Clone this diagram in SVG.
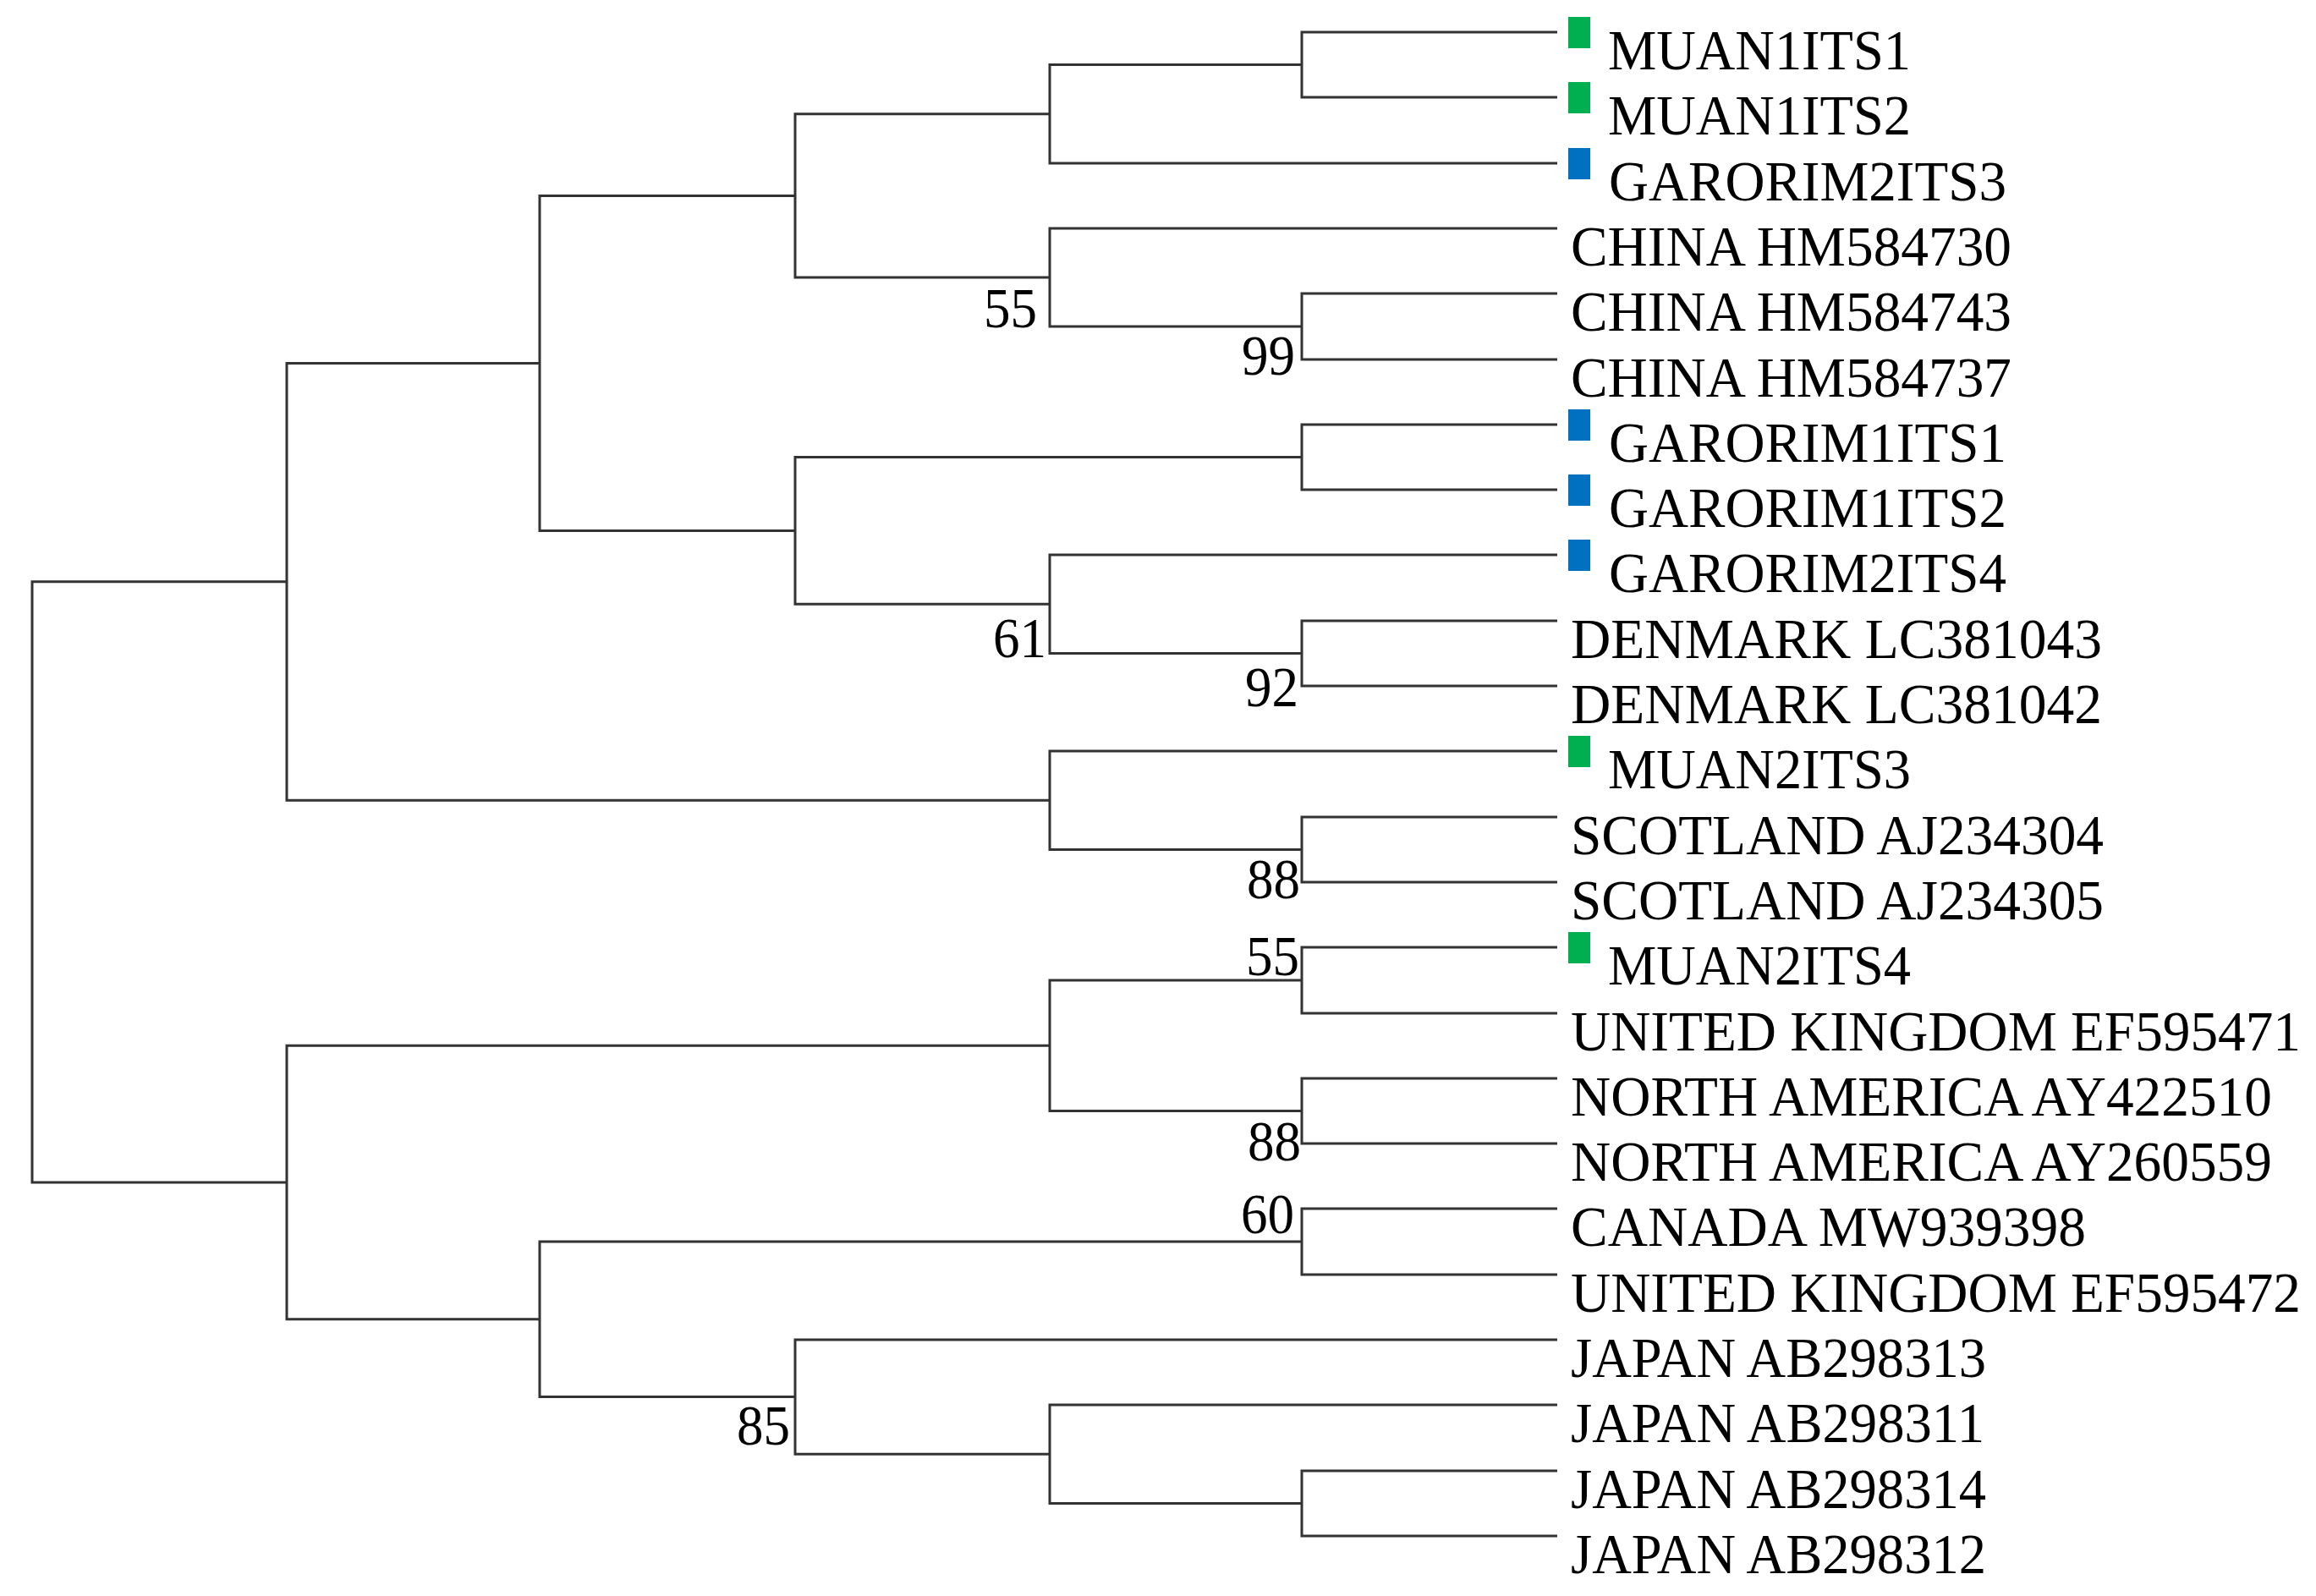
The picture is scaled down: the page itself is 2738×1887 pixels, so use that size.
<svg xmlns="http://www.w3.org/2000/svg" width="2738" height="1887" viewBox="0 0 2738 1887">
<style>
  .br { fill: none; stroke: #333333; stroke-width: 3; stroke-linejoin: miter; stroke-linecap: butt; }
  .lbl { font-family: "Liberation Serif", "Times New Roman", serif; font-size: 67px; fill: #000000; }
  .bs { font-family: "Liberation Serif", "Times New Roman", serif; font-size: 67px; fill: #000000; text-anchor: end; }
  .g { fill: #00B050; }
  .b { fill: #0070C0; }
</style>
<rect x="0" y="0" width="2738" height="1887" fill="#ffffff"/>
<g id="connectors">
  <path class="br" d="M1841,38 H1539 V115 H1841"/>
  <path class="br" d="M1539,76.5 H1241 V193 H1841"/>
  <path class="br" d="M1841,347 H1539 V425 H1841"/>
  <path class="br" d="M1841,270 H1241 V386 H1539"/>
  <path class="br" d="M1241,134.75 H940 V328 H1241"/>
  <path class="br" d="M1841,502 H1539 V579 H1841"/>
  <path class="br" d="M1841,734 H1539 V811 H1841"/>
  <path class="br" d="M1841,656 H1241 V772.5 H1539"/>
  <path class="br" d="M1539,540.5 H940 V714.25 H1241"/>
  <path class="br" d="M940,231.4 H638 V627.4 H940"/>
  <path class="br" d="M1841,966 H1539 V1043 H1841"/>
  <path class="br" d="M1841,888 H1241 V1004.5 H1539"/>
  <path class="br" d="M638,429.4 H339 V946.25 H1241"/>
  <path class="br" d="M1841,1120 H1539 V1198 H1841"/>
  <path class="br" d="M1841,1275 H1539 V1352 H1841"/>
  <path class="br" d="M1539,1159 H1241 V1313.5 H1539"/>
  <path class="br" d="M1841,1429 H1539 V1507 H1841"/>
  <path class="br" d="M1841,1739 H1539 V1816 H1841"/>
  <path class="br" d="M1841,1661 H1241 V1777.5 H1539"/>
  <path class="br" d="M1841,1584 H940 V1719.25 H1241"/>
  <path class="br" d="M1539,1468 H638 V1651.6 H940"/>
  <path class="br" d="M1241,1236.25 H339 V1559.8 H638"/>
  <path class="br" d="M339,687.8 H38 V1398 H339"/>
</g>
<g id="bootstrap">
  <text class="bs" x="1226" y="387" textLength="63" lengthAdjust="spacingAndGlyphs">55</text>
  <text class="bs" x="1531" y="443" textLength="63" lengthAdjust="spacingAndGlyphs">99</text>
  <text class="bs" x="1237" y="777" textLength="63" lengthAdjust="spacingAndGlyphs">61</text>
  <text class="bs" x="1535" y="835" textLength="63" lengthAdjust="spacingAndGlyphs">92</text>
  <text class="bs" x="1537" y="1062" textLength="63" lengthAdjust="spacingAndGlyphs">88</text>
  <text class="bs" x="1536" y="1153" textLength="63" lengthAdjust="spacingAndGlyphs">55</text>
  <text class="bs" x="1538" y="1372" textLength="63" lengthAdjust="spacingAndGlyphs">88</text>
  <text class="bs" x="1530" y="1458" textLength="63" lengthAdjust="spacingAndGlyphs">60</text>
  <text class="bs" x="934" y="1708" textLength="63" lengthAdjust="spacingAndGlyphs">85</text>
</g>
<g id="leaf-MUAN1ITS1"><rect class="g" x="1854" y="20" width="26" height="37"/><text class="lbl" x="1901" y="82" textLength="358" lengthAdjust="spacingAndGlyphs">MUAN1ITS1</text></g>
<g id="leaf-MUAN1ITS2"><rect class="g" x="1854" y="97" width="26" height="37"/><text class="lbl" x="1901" y="159" textLength="358" lengthAdjust="spacingAndGlyphs">MUAN1ITS2</text></g>
<g id="leaf-GARORIM2ITS3"><rect class="b" x="1854" y="175" width="26" height="37"/><text class="lbl" x="1902" y="237" textLength="470" lengthAdjust="spacingAndGlyphs">GARORIM2ITS3</text></g>
<g id="leaf-CHINA-HM584730"><text class="lbl" x="1857" y="314" textLength="521" lengthAdjust="spacingAndGlyphs">CHINA HM584730</text></g>
<g id="leaf-CHINA-HM584743"><text class="lbl" x="1857" y="391" textLength="521" lengthAdjust="spacingAndGlyphs">CHINA HM584743</text></g>
<g id="leaf-CHINA-HM584737"><text class="lbl" x="1857" y="469" textLength="521" lengthAdjust="spacingAndGlyphs">CHINA HM584737</text></g>
<g id="leaf-GARORIM1ITS1"><rect class="b" x="1854" y="484" width="26" height="37"/><text class="lbl" x="1902" y="546" textLength="470" lengthAdjust="spacingAndGlyphs">GARORIM1ITS1</text></g>
<g id="leaf-GARORIM1ITS2"><rect class="b" x="1854" y="561" width="26" height="37"/><text class="lbl" x="1902" y="623" textLength="470" lengthAdjust="spacingAndGlyphs">GARORIM1ITS2</text></g>
<g id="leaf-GARORIM2ITS4"><rect class="b" x="1854" y="638" width="26" height="37"/><text class="lbl" x="1902" y="700" textLength="470" lengthAdjust="spacingAndGlyphs">GARORIM2ITS4</text></g>
<g id="leaf-DENMARK-LC381043"><text class="lbl" x="1857" y="778" textLength="628" lengthAdjust="spacingAndGlyphs">DENMARK LC381043</text></g>
<g id="leaf-DENMARK-LC381042"><text class="lbl" x="1857" y="855" textLength="628" lengthAdjust="spacingAndGlyphs">DENMARK LC381042</text></g>
<g id="leaf-MUAN2ITS3"><rect class="g" x="1854" y="870" width="26" height="37"/><text class="lbl" x="1901" y="932" textLength="358" lengthAdjust="spacingAndGlyphs">MUAN2ITS3</text></g>
<g id="leaf-SCOTLAND-AJ234304"><text class="lbl" x="1857" y="1010" textLength="630" lengthAdjust="spacingAndGlyphs">SCOTLAND AJ234304</text></g>
<g id="leaf-SCOTLAND-AJ234305"><text class="lbl" x="1857" y="1087" textLength="630" lengthAdjust="spacingAndGlyphs">SCOTLAND AJ234305</text></g>
<g id="leaf-MUAN2ITS4"><rect class="g" x="1854" y="1102" width="26" height="37"/><text class="lbl" x="1901" y="1164" textLength="358" lengthAdjust="spacingAndGlyphs">MUAN2ITS4</text></g>
<g id="leaf-UNITED-KINGDOM-EF595471"><text class="lbl" x="1857" y="1242" textLength="863" lengthAdjust="spacingAndGlyphs">UNITED KINGDOM EF595471</text></g>
<g id="leaf-NORTH-AMERICA-AY422510"><text class="lbl" x="1857" y="1319" textLength="829" lengthAdjust="spacingAndGlyphs">NORTH AMERICA AY422510</text></g>
<g id="leaf-NORTH-AMERICA-AY260559"><text class="lbl" x="1857" y="1396" textLength="829" lengthAdjust="spacingAndGlyphs">NORTH AMERICA AY260559</text></g>
<g id="leaf-CANADA-MW939398"><text class="lbl" x="1857" y="1473" textLength="609" lengthAdjust="spacingAndGlyphs">CANADA MW939398</text></g>
<g id="leaf-UNITED-KINGDOM-EF595472"><text class="lbl" x="1857" y="1551" textLength="863" lengthAdjust="spacingAndGlyphs">UNITED KINGDOM EF595472</text></g>
<g id="leaf-JAPAN-AB298313"><text class="lbl" x="1857" y="1628" textLength="491" lengthAdjust="spacingAndGlyphs">JAPAN AB298313</text></g>
<g id="leaf-JAPAN-AB298311"><text class="lbl" x="1857" y="1705" textLength="489" lengthAdjust="spacingAndGlyphs">JAPAN AB298311</text></g>
<g id="leaf-JAPAN-AB298314"><text class="lbl" x="1857" y="1783" textLength="491" lengthAdjust="spacingAndGlyphs">JAPAN AB298314</text></g>
<g id="leaf-JAPAN-AB298312"><text class="lbl" x="1857" y="1860" textLength="491" lengthAdjust="spacingAndGlyphs">JAPAN AB298312</text></g>
</svg>
